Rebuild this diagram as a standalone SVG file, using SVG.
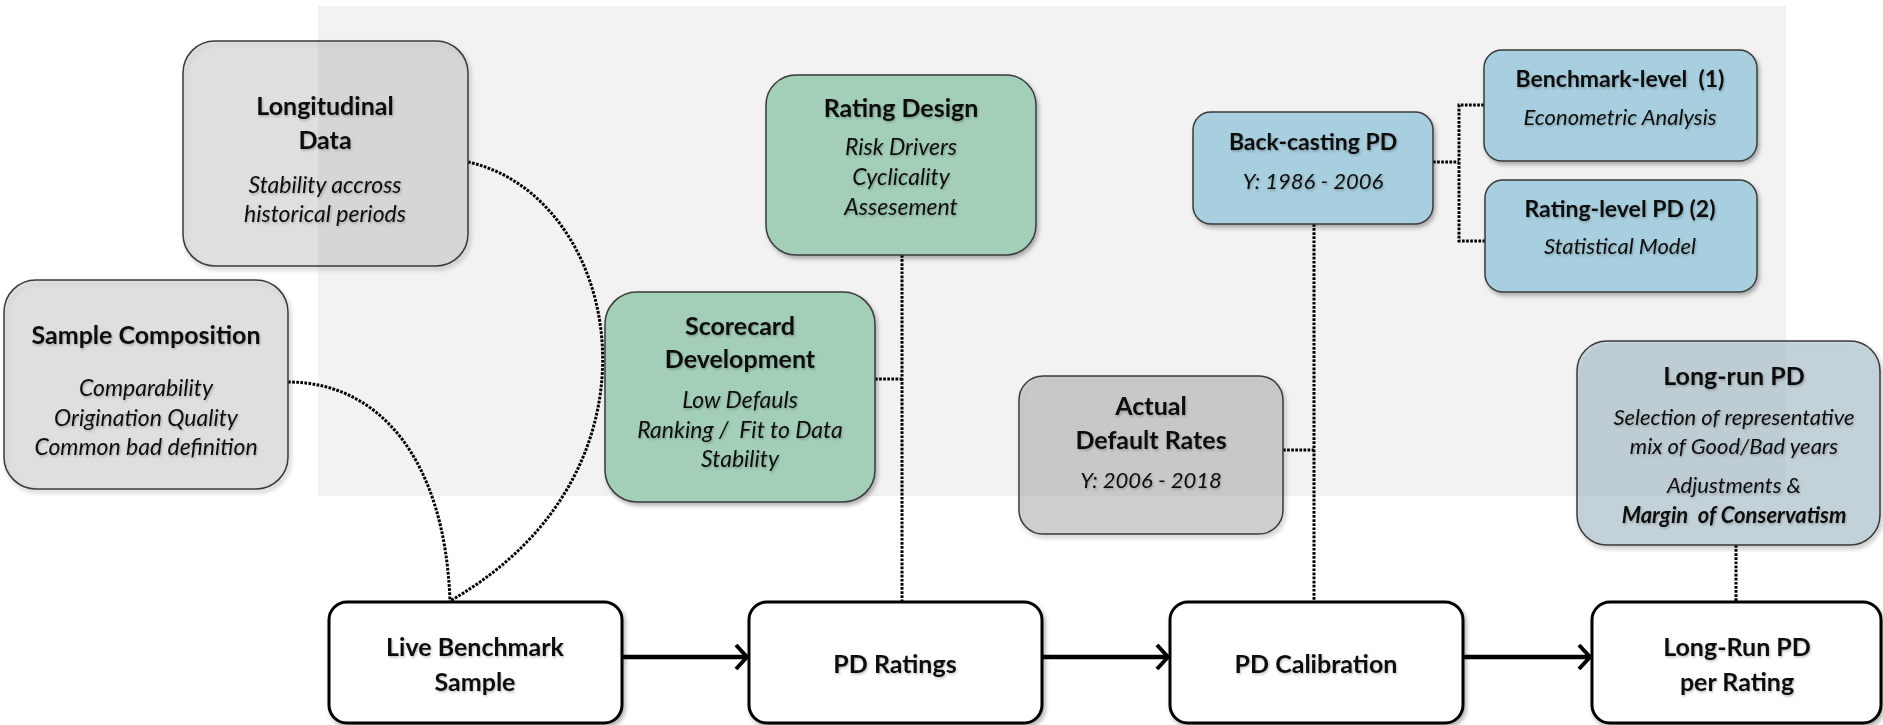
<svg xmlns="http://www.w3.org/2000/svg" width="1883" height="725" viewBox="0 0 1883 725">
<defs>
<filter id="sh" x="-10%" y="-10%" width="125%" height="130%">
<feDropShadow dx="2" dy="3" stdDeviation="2" flood-color="#000" flood-opacity="0.3"/>
</filter>
<filter id="ts" x="-5%" y="-20%" width="110%" height="150%">
<feDropShadow dx="1" dy="1.5" stdDeviation="1" flood-color="#000" flood-opacity="0.25"/>
</filter>
<marker id="arr" markerUnits="userSpaceOnUse" markerWidth="16" markerHeight="28" viewBox="0 0 16 28" refX="13" refY="14" orient="auto">
<path d="M2,2 L13,14 L2,26" fill="none" stroke="#000" stroke-width="4"/>
</marker>
<style>
.box{stroke:#3a3a3a;stroke-width:1.5;filter:url(#sh)}
.gray{fill:#9b9b9b;fill-opacity:0.23}
.green{fill:#a3cfb8}
.blue{fill:#a8cfdf}
.dgray{fill:#a1a1a1;fill-opacity:0.385}
.lrun{fill:#a6c0cb;fill-opacity:0.54}
.main{fill:#fff;stroke:#000;stroke-width:3;filter:url(#sh)}
text{font-family:Lato,"Liberation Sans",sans-serif;fill:#111;text-anchor:middle;filter:url(#ts)}
.t{font-weight:bold;font-size:25px}
.tb{font-weight:bold;font-size:23px}
.s{font-style:italic;font-size:23px}
.s2{font-style:italic;font-size:22px}
.m{font-weight:bold;font-size:25px}
.dot{fill:none;stroke:#000;stroke-width:3;stroke-dasharray:2.7 1.4}
.flow{fill:none;stroke:#000;stroke-width:4.5;marker-end:url(#arr)}
</style>
</defs>
<rect x="318" y="6" width="1468" height="490" fill="#f2f2f2"/>
<g id="connectors">
<path class="dot" d="M468,162 C620,195 680,470 450,601"/>
<path class="dot" d="M288,382 C380,382 445,460 450,601"/>
<path class="dot" d="M902,255 L902,601"/>
<path class="dot" d="M875,379 L902,379"/>
<path class="dot" d="M1314,224 L1314,601"/>
<path class="dot" d="M1283,450 L1314,450"/>
<path class="dot" d="M1433,162 L1459,162"/>
<path class="dot" d="M1484,105 L1459,105 L1459,241 L1485,241"/>
<path class="dot" d="M1736,545 L1736,601"/>
<path class="flow" d="M622,657 L747,657"/>
<path class="flow" d="M1042,657 L1168,657"/>
<path class="flow" d="M1463,657 L1590,657"/>
</g>
<g id="longitudinal">
<rect class="box gray" x="183" y="41" width="285" height="225" rx="32"/>
<text class="t" x="325" y="115">Longitudinal</text>
<text class="t" x="325" y="149">Data</text>
<text class="s" x="325" y="193">Stability accross</text>
<text class="s" x="325" y="222">historical periods</text>
</g>
<g id="sample">
<rect class="box gray" x="4" y="280" width="284" height="209" rx="32"/>
<text class="t" x="146" y="344">Sample Composition</text>
<text class="s" x="146" y="396">Comparability</text>
<text class="s" x="146" y="426">Origination Quality</text>
<text class="s" x="146" y="455">Common bad definition</text>
</g>
<g id="rating-design">
<rect class="box green" x="766" y="75" width="270" height="180" rx="30"/>
<text class="t" x="901" y="117">Rating Design</text>
<text class="s" x="901" y="155">Risk Drivers</text>
<text class="s" x="901" y="185">Cyclicality</text>
<text class="s" x="901" y="215">Assesement</text>
</g>
<g id="scorecard">
<rect class="box green" x="605" y="292" width="270" height="210" rx="32"/>
<text class="t" x="740" y="335">Scorecard</text>
<text class="t" x="740" y="368">Development</text>
<text class="s" x="740" y="408">Low Defauls</text>
<text class="s" x="740" y="438" xml:space="preserve">Ranking /  Fit to Data</text>
<text class="s" x="740" y="467">Stability</text>
</g>
<g id="backcasting">
<rect class="box blue" x="1193" y="112" width="240" height="112" rx="18"/>
<text class="tb" x="1313" y="150">Back-casting PD</text>
<text class="s2" x="1313" y="189">Y: 1986 - 2006</text>
</g>
<g id="benchmark-level">
<rect class="box blue" x="1484" y="50" width="273" height="111" rx="18"/>
<text class="tb" x="1620" y="87" xml:space="preserve">Benchmark-level  (1)</text>
<text class="s2" x="1620" y="125">Econometric Analysis</text>
</g>
<g id="rating-level">
<rect class="box blue" x="1485" y="180" width="272" height="112" rx="18"/>
<text class="tb" x="1620" y="217">Rating-level PD (2)</text>
<text class="s2" x="1620" y="254">Statistical Model</text>
</g>
<g id="actual-default">
<rect class="box dgray" x="1019" y="376" width="264" height="158" rx="24"/>
<text class="t" x="1151" y="415">Actual</text>
<text class="t" x="1151" y="449">Default Rates</text>
<text class="s2" x="1151" y="488">Y: 2006 - 2018</text>
</g>
<g id="long-run-pd">
<rect class="box lrun" x="1577" y="341" width="303" height="204" rx="30"/>
<text class="t" x="1734" y="385">Long-run PD</text>
<text class="s2" x="1734" y="425">Selection of representative</text>
<text class="s2" x="1734" y="454">mix of Good/Bad years</text>
<text class="s2" x="1734" y="493">Adjustments &amp;</text>
<text class="s2" x="1734" y="523" font-weight="bold" xml:space="preserve">Margin  of Conservatism</text>
</g>
<g id="live-benchmark">
<rect class="main" x="329" y="602" width="293" height="121" rx="18"/>
<text class="m" x="475" y="656">Live Benchmark</text>
<text class="m" x="475" y="691">Sample</text>
</g>
<g id="pd-ratings">
<rect class="main" x="749" y="602" width="293" height="121" rx="18"/>
<text class="m" x="895" y="673">PD Ratings</text>
</g>
<g id="pd-calibration">
<rect class="main" x="1170" y="602" width="293" height="121" rx="18"/>
<text class="m" x="1316" y="673">PD Calibration</text>
</g>
<g id="long-run-per-rating">
<rect class="main" x="1592" y="602" width="289" height="121" rx="18"/>
<text class="m" x="1737" y="656">Long-Run PD</text>
<text class="m" x="1737" y="691">per Rating</text>
</g>
</svg>
